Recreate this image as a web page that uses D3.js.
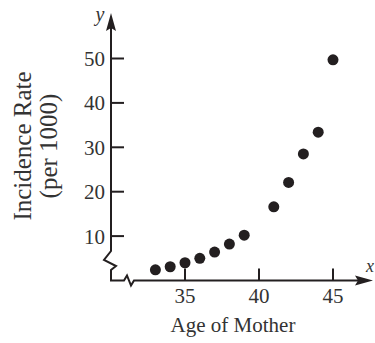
<!DOCTYPE html>
<html><head><meta charset="utf-8">
<script src="https://cdn.jsdelivr.net/npm/d3@7"></script>
<style>html,body{margin:0;padding:0;background:#fff;}svg{display:block;}</style>
</head><body>
<svg id="c" width="375" height="343"></svg>
<script>
const ages = [33, 34, 35, 36, 37, 38, 39, 41, 42, 43, 44, 45];
const rates = [2.4, 3.1, 4.0, 5.0, 6.4, 8.2, 10.2, 16.6, 22.1, 28.5, 33.4, 49.7];
const xTicks = [35, 40, 45];
const yTicks = [10, 20, 30, 40, 50];
const xTitle = "Age of Mother";
const yTitle = ["Incidence Rate", "(per 1000)"];

const ink = "#231f20";
const font = "'Liberation Serif','DejaVu Serif',serif";
const svg = d3.select("#c");
const x = d3.scaleLinear().domain([35, 45]).range([185, 333]);
const y = d3.scaleLinear().domain([0, 50]).range([280.5, 58.5]);
const x0 = x(30), y0 = y(0);

// axes with breaks
const g = svg.append("g").attr("stroke", ink).attr("fill", "none").attr("stroke-width", 2);
g.append("path").attr("d", d3.line()([[x0, 28], [x0, 251], [x0 - 7, 260], [x0 + 5, 266], [x0, 270], [x0, y0], [x0 + 13, y0], [x0 + 16, y0 - 5], [x0 + 20, y0 + 5], [x0 + 23, y0], [360, y0]]));
// arrowheads
svg.append("path").attr("fill", ink).attr("d", `M${x0},13 L${x0 - 5},31 L${x0},28 L${x0 + 5},31 Z`);
svg.append("path").attr("fill", ink).attr("d", `M373,${y0} L355,${y0 - 5} L358,${y0} L355,${y0 + 5} Z`);

// ticks
g.selectAll("line.yt").data(yTicks).join("line").attr("x1", x0).attr("x2", x0 + 13).attr("y1", d => y(d)).attr("y2", d => y(d));
g.selectAll("line.xt").data(xTicks).join("line").attr("x1", d => x(d)).attr("x2", d => x(d)).attr("y1", y0).attr("y2", y0 - 12);

const t = svg.append("g").attr("fill", "#333").attr("font-family", font);
t.selectAll("text.yl").data(yTicks).join("text").attr("x", x0 - 6).attr("y", d => y(d) + 7.5).attr("text-anchor", "end").attr("font-size", 21).text(d => d);
t.selectAll("text.xl").data(xTicks).join("text").attr("x", d => x(d)).attr("y", y0 + 22.5).attr("text-anchor", "middle").attr("font-size", 21).text(d => d);
t.append("text").attr("x", 233).attr("y", 332).attr("text-anchor", "middle").attr("font-size", 21).text(xTitle);
t.selectAll("text.yt").data(yTitle).join("text").attr("transform", (d, i) => `translate(${31 + i * 26},146) rotate(-90)`).attr("text-anchor", "middle").attr("font-size", 25).text(d => d);
t.append("text").attr("x", 100).attr("y", 21).attr("text-anchor", "middle").attr("font-size", 20).attr("font-style", "italic").text("y");
t.append("text").attr("x", 366).attr("y", 272).attr("text-anchor", "start").attr("font-size", 18).attr("font-style", "italic").text("x");

// points
svg.append("g").selectAll("circle").data(ages).join("circle")
  .attr("cx", d => x(d)).attr("cy", (d, i) => y(rates[i])).attr("r", 5.5).attr("fill", ink);
</script>
</body></html>
